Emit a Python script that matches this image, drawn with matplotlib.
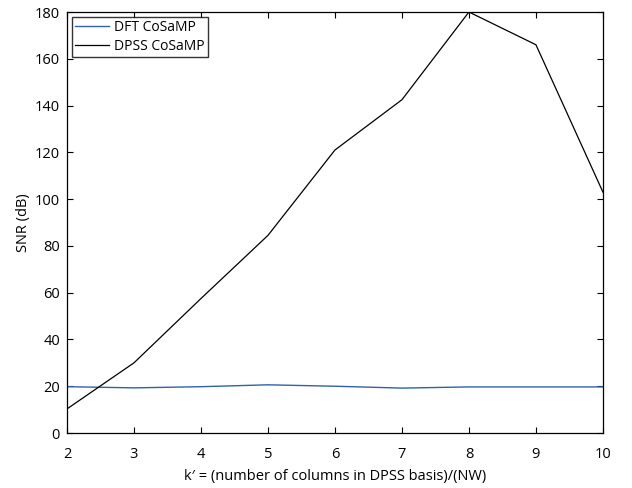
import matplotlib
matplotlib.use("Agg")
import matplotlib.pyplot as plt

k = [2, 3, 4, 5, 6, 7, 8, 9, 10]
dft_snr = [19.8, 19.3, 19.8, 20.6, 20.0, 19.2, 19.7, 19.7, 19.7]
dpss_snr = [10.3, 30.0, 57.5, 84.5, 121.0, 142.5, 180.0, 166.0, 103.0]
x_ticks = [2, 3, 4, 5, 6, 7, 8, 9, 10]
y_ticks = [0, 20, 40, 60, 80, 100, 120, 140, 160, 180]

plt.rcParams['font.family'] = ['Open Sans', 'DejaVu Sans']

fig = plt.figure(figsize=(6.32, 4.88), dpi=100)
ax = fig.add_axes([0.106, 0.1127, 0.848, 0.8627])
ax.plot(k, dft_snr, color='#2f62ad', lw=1.0, label='DFT CoSaMP')
ax.plot(k, dpss_snr, color='black', lw=0.9, label='DPSS CoSaMP')
ax.set_xlim(2, 10)
ax.set_ylim(0, 180)
ax.set_xticks(x_ticks)
ax.set_yticks(y_ticks)
ax.tick_params(direction='in', top=True, right=True, length=4.5, width=0.8, labelsize=10.5)
ax.tick_params(axis='x', pad=10)
ax.tick_params(axis='y', pad=5)
for s in ax.spines.values():
    s.set_linewidth(0.9)
ax.set_xlabel("k\u2032 = (number of columns in DPSS basis)/(NW)", fontsize=10.5, labelpad=5)
ax.set_ylabel("SNR (dB)", fontsize=10.5, labelpad=3)
leg = ax.legend(loc='upper left', fontsize=10, frameon=True, fancybox=False,
                borderpad=0.25, labelspacing=0.25, handlelength=2.4, handletextpad=0.4,
                borderaxespad=0.35)
leg.get_frame().set_edgecolor('black')
leg.get_frame().set_linewidth(1.0)
fig.savefig('out.png', dpi=100)
